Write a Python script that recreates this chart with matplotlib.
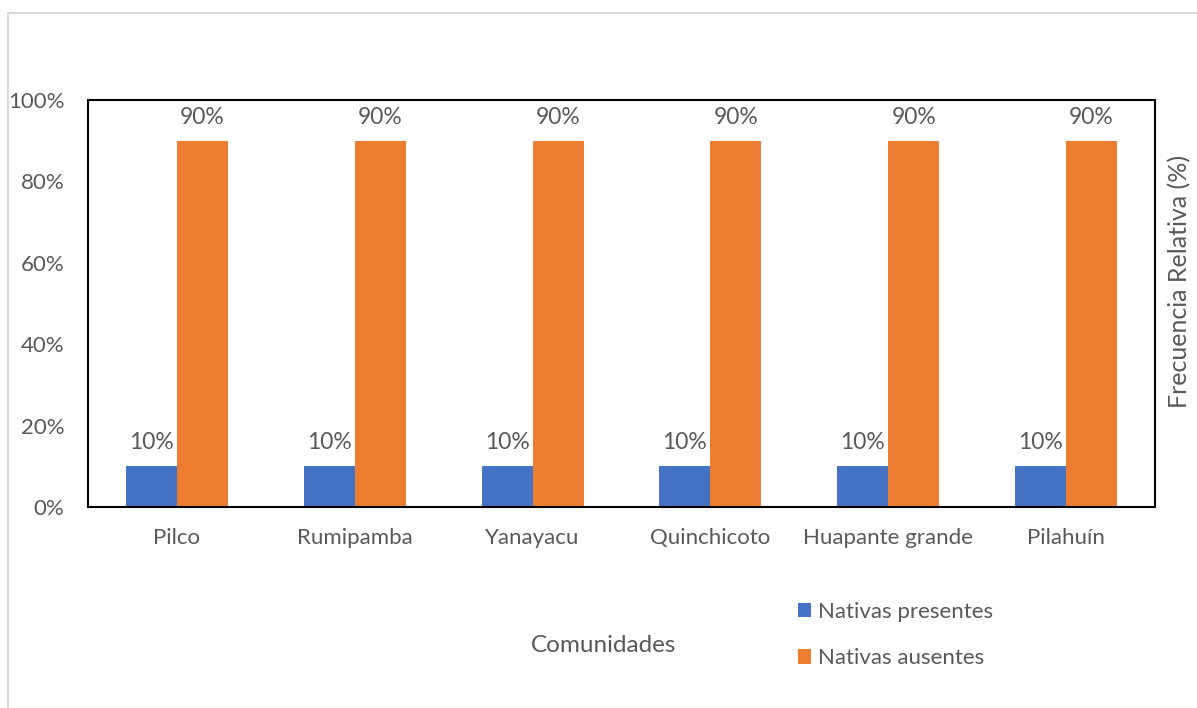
import matplotlib.pyplot as plt
import numpy as np
from matplotlib.patches import Rectangle

comunidades = ['Pilco', 'Rumipamba', 'Yanayacu', 'Quinchicoto', 'Huapante grande', 'Pilahuín']
presentes = [10, 10, 10, 10, 10, 10]
ausentes = [90, 90, 90, 90, 90, 90]
yticks = [0, 20, 40, 60, 80, 100]

AZUL = '#4472C4'
NARANJA = '#ED7D31'
GRIS = '#595959'

plt.rcParams['font.family'] = ['Lato', 'DejaVu Sans']

fig = plt.figure(figsize=(11.97, 7.08), dpi=100)
W, H = 1197, 708
ax = fig.add_axes([88 / W, 1 - 507 / H, (1155 - 88) / W, (507 - 100) / H])

# marco exterior gris claro
fig.patches.append(Rectangle((8 / W, -0.01), 1.2, 1 - 13 / H + 0.01, transform=fig.transFigure,
                             fill=False, edgecolor='#D9D9D9', linewidth=1.5))

x = np.arange(len(comunidades))
w = 0.287
b1 = ax.bar(x - w / 2, presentes, w, color=AZUL, label='Nativas presentes')
b2 = ax.bar(x + w / 2, ausentes, w, color=NARANJA, label='Nativas ausentes')

for bars, vals in ((b1, presentes), (b2, ausentes)):
    for r, v in zip(bars, vals):
        ax.annotate(f'{v}%', (r.get_x() + r.get_width() / 2, v), xytext=(0, 17),
                    textcoords='offset points', ha='center', va='center',
                    fontsize=16.5, color=GRIS)

ax.set_xlim(-0.5, len(comunidades) - 0.5)
ax.set_ylim(0, 100)
ax.set_yticks(yticks)
ax.set_yticklabels([f'{t}%' for t in yticks])
ax.set_xticks(x)
ax.set_xticklabels(comunidades)
ax.tick_params(length=0, labelsize=16, labelcolor=GRIS)
ax.tick_params(axis='x', pad=15)
ax.tick_params(axis='y', pad=17)
for s in ax.spines.values():
    s.set_color('black')
    s.set_linewidth(1.5)

fig.text(1180 / W, 1 - 281 / H, 'Frecuencia Relativa (%)', rotation=90,
         ha='center', va='center', fontsize=18, color=GRIS)
fig.text(604 / W, 1 - 645 / H, 'Comunidades', ha='center', va='center',
         fontsize=17.5, color=GRIS)

fig.legend(handles=[b1, b2], loc='center left', bbox_to_anchor=(778 / W, 1 - 635 / H),
           frameon=False, fontsize=16, labelcolor=GRIS, handlelength=0.6,
           handleheight=0.6, handletextpad=0.3, labelspacing=1.2)

fig.savefig('out.png', dpi=100, facecolor='white')
